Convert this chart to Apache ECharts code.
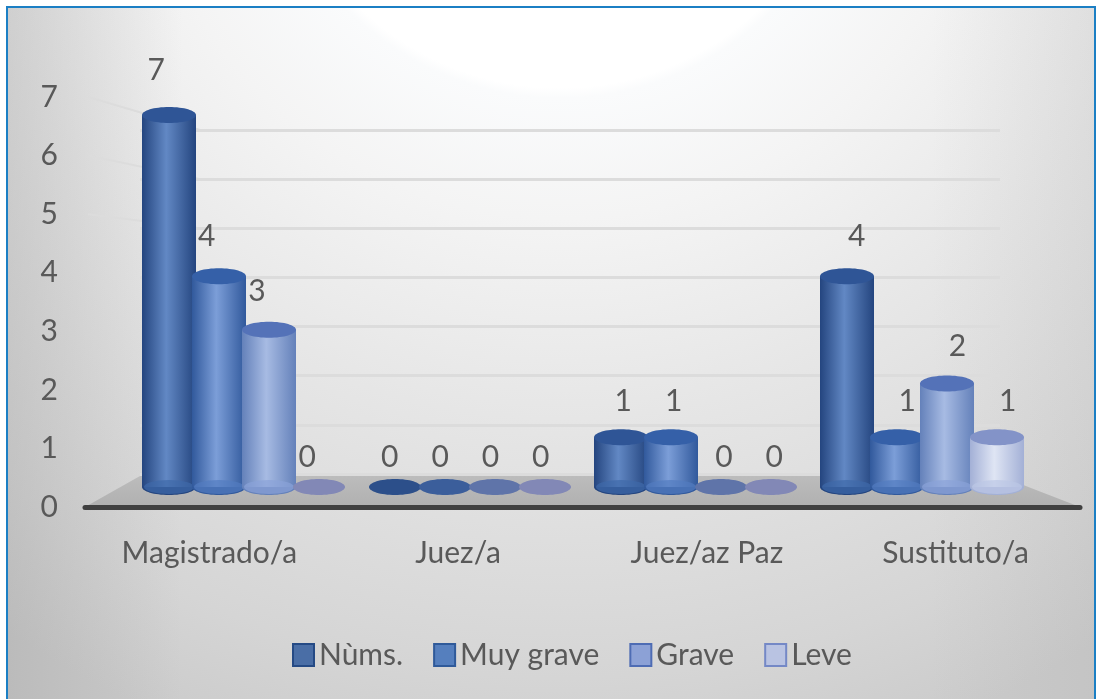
<!DOCTYPE html>
<html>
<head>
<meta charset="utf-8">
<style>
  html, body { margin: 0; padding: 0; background: #fff; }
  #chart { width: 1098px; height: 699px; }
</style>
<script src="https://cdn.jsdelivr.net/npm/echarts@6/dist/echarts.min.js"></script>
</head>
<body>
<div id="chart"></div>
<script>
// Data
var categories = ['Magistrado/a', 'Juez/a', 'Juez/az Paz', 'Sustituto/a'];
var seriesNames = ['Nùms.', 'Muy grave', 'Grave', 'Leve'];
var nums = [7, 0, 1, 4];
var muyGrave = [4, 0, 1, 1];
var grave = [3, 0, 0, 2];
var leve = [0, 0, 0, 1];
var yTicks = [0, 1, 2, 3, 4, 5, 6, 7];

var allValues = [nums, muyGrave, grave, leve];

// Colors per series
var edgeColors = ['#24457f', '#31599c', '#6481ba', '#a3b0d6'];
var midColors = ['#6288c4', '#7c9ed8', '#a7bbe3', '#dfe5f4'];
var capColors = ['#2f5596', '#3560a8', '#5472b8', '#8393c8'];
var footColors = ['#3f69aa', '#527cc0', '#8aa3d8', '#bcc8e6'];
var flatColors = ['#2c4f8a', '#3b5e9b', '#5f74a9', '#8288b6'];
var legendFills = ['#4a6ea6', '#557fbe', '#8ca1d6', '#b9c3e2'];
var legendBorders = ['#254a85', '#2f5a9a', '#4e6cb4', '#7488c6'];

var FONT = 'Lato, "Open Sans", sans-serif';
var TEXT_COLOR = '#595959';
var FONT_SIZE = 30;

var chart_element = document.getElementById('chart');
var chart = echarts.init(chart_element);

// Cylinder for one value
function renderCylinder(seriesIndex) {
    return function (params, api) {
        var cat = api.value(0);
        var val = api.value(1);
        var zero = api.coord([cat, 0]);
        var top = api.coord([cat, val]);
        var cx = zero[0] + (seriesIndex - 1.5) * 50;
        var rx = 27;
        var ry = 8;
        var baseY = zero[1] - 4;

        if (val === 0) {
            return {
                type: 'ellipse',
                shape: {cx: cx, cy: baseY, rx: rx - 1, ry: ry},
                style: {fill: flatColors[seriesIndex]}
            };
        }

        var body = new echarts.graphic.LinearGradient(0, 0, 1, 0, [
            {offset: 0, color: edgeColors[seriesIndex]},
            {offset: 0.45, color: midColors[seriesIndex]},
            {offset: 1, color: edgeColors[seriesIndex]}
        ]);
        return {
            type: 'group',
            children: [
                {type: 'ellipse', shape: {cx: cx, cy: baseY, rx: rx, ry: ry}, style: {fill: edgeColors[seriesIndex]}},
                {type: 'rect', shape: {x: cx - rx, y: top[1], width: rx * 2, height: baseY - top[1]}, style: {fill: body}},
                {type: 'ellipse', shape: {cx: cx, cy: baseY, rx: rx - 2, ry: ry - 1}, style: {fill: footColors[seriesIndex], opacity: 0.7}},
                {type: 'ellipse', shape: {cx: cx, cy: top[1], rx: rx, ry: ry}, style: {fill: capColors[seriesIndex]}}
            ]
        };
    };
}

// Value label above a cylinder, lives on its own grid
function renderLabel(seriesIndex) {
    return function (params, api) {
        var pos = api.coord([api.value(0), api.value(1)]);
        return {
            type: 'text',
            x: pos[0] + (seriesIndex - 1.5) * 50.3,
            y: pos[1],
            style: {
                text: String(api.value(1)),
                fill: TEXT_COLOR,
                font: FONT_SIZE + 'px ' + FONT,
                align: 'center',
                verticalAlign: 'middle'
            }
        };
    };
}

function pairs(values) {
    return values.map(function (v, i) {
        return [i, v];
    });
}

var series = [];
allValues.forEach(function (values, i) {
    series.push({
        name: seriesNames[i],
        type: 'custom',
        xAxisIndex: 2,
        yAxisIndex: 2,
        z: 5,
        clip: false,
        itemStyle: {color: legendFills[i]},
        renderItem: renderCylinder(i),
        data: pairs(values)
    });
});
allValues.forEach(function (values, i) {
    series.push({
        name: seriesNames[i] + ' valor',
        type: 'custom',
        xAxisIndex: 3,
        yAxisIndex: 3,
        z: 6,
        clip: false,
        renderItem: renderLabel(i),
        data: pairs(values)
    });
});

var hiddenCat = {type: 'category', data: categories, show: false};
var hiddenVal = {type: 'value', min: 0, max: 7, interval: 1, show: false};

// Options
chart.setOption({
    animation: false,
    backgroundColor: '#ffffff',
    textStyle: {fontFamily: FONT},
    legend: {
        left: 292,
        top: 640,
        padding: 0,
        itemWidth: 21,
        itemHeight: 22,
        itemGap: 30,
        selectedMode: false,
        textStyle: {fontFamily: FONT, fontSize: FONT_SIZE, color: TEXT_COLOR},
        data: seriesNames.map(function (name, i) {
            return {
                name: name,
                icon: 'rect',
                itemStyle: {color: legendFills[i], borderColor: legendBorders[i], borderWidth: 2}
            };
        })
    },
    // 0: front plane with the axes, 1: back wall, 2: cylinders, 3: value labels
    grid: [
        {left: 85, right: 18, top: 97, bottom: 192},
        {left: 140, right: 98, top: 130, bottom: 225},
        {left: 131, right: 63, top: 115, bottom: 208},
        {left: 115, right: 49, top: 70.6, bottom: 242}
    ],
    xAxis: [
        {
            type: 'category',
            gridIndex: 0,
            data: categories,
            z: 4,
            axisTick: {show: false},
            axisLine: {lineStyle: {color: '#404040', width: 5}},
            axisLabel: {color: TEXT_COLOR, fontSize: FONT_SIZE, fontFamily: FONT, margin: 31}
        },
        Object.assign({gridIndex: 1}, hiddenCat),
        Object.assign({gridIndex: 2}, hiddenCat),
        Object.assign({gridIndex: 3}, hiddenCat)
    ],
    yAxis: [
        {
            type: 'value',
            gridIndex: 0,
            min: 0,
            max: 7,
            interval: 1,
            axisLine: {show: false},
            axisTick: {show: false},
            splitLine: {show: false},
            axisLabel: {
                color: TEXT_COLOR,
                fontSize: FONT_SIZE,
                fontFamily: FONT,
                margin: 27,
                formatter: function (v) {
                    return yTicks.indexOf(v) >= 0 ? String(v) : '';
                }
            }
        },
        {
            type: 'value',
            gridIndex: 1,
            min: 0,
            max: 7,
            interval: 1,
            axisLine: {show: false},
            axisTick: {show: false},
            axisLabel: {show: false},
            splitLine: {lineStyle: {color: '#dcdcdc', width: 3}}
        },
        Object.assign({gridIndex: 2}, hiddenVal),
        Object.assign({gridIndex: 3}, hiddenVal)
    ],
    series: series
});

// Backdrop, floor and the faint side wall lines
var backdrop = [
    {
        type: 'rect',
        z: -10,
        shape: {x: 7, y: 7, width: 1088, height: 700},
        style: {
            stroke: '#1b7fc4',
            lineWidth: 2,
            fill: {
                type: 'radial',
                x: 560,
                y: -202,
                r: 1000,
                global: true,
                colorStops: [
                    {offset: 0, color: '#ffffff'},
                    {offset: 0.29, color: '#ffffff'},
                    {offset: 0.3, color: '#fafbfc'},
                    {offset: 0.42, color: '#f4f4f4'},
                    {offset: 0.62, color: '#e6e6e6'},
                    {offset: 0.88, color: '#d5d5d5'},
                    {offset: 1, color: '#cbcbcb'}
                ]
            }
        }
    },
    {
        type: 'rect',
        z: -9,
        shape: {x: 8, y: 8, width: 1086, height: 691},
        style: {
            fill: new echarts.graphic.LinearGradient(0, 0, 1, 0, [
                {offset: 0, color: 'rgba(150,150,150,0.3)'},
                {offset: 0.16, color: 'rgba(150,150,150,0)'},
                {offset: 0.85, color: 'rgba(150,150,150,0)'},
                {offset: 1, color: 'rgba(150,150,150,0.12)'}
            ])
        }
    }
];

var wall = [7, 6, 5].map(function (v) {
    var front = chart.convertToPixel({yAxisIndex: 0}, v);
    var back = chart.convertToPixel({yAxisIndex: 1}, v);
    return {
        type: 'line',
        z: -8,
        shape: {x1: 88, y1: front, x2: 200, y2: back},
        style: {stroke: '#dcdcdc', lineWidth: 2}
    };
});

var floorBack = chart.convertToPixel({yAxisIndex: 1}, 0) + 2;
var floorFront = chart.convertToPixel({yAxisIndex: 0}, 0);
var floor = {
    type: 'polygon',
    z: 1,
    shape: {points: [[85, floorFront], [140, floorBack], [1000, floorBack], [1080, floorFront]]},
    style: {
        fill: new echarts.graphic.LinearGradient(0, 0, 0, 1, [
            {offset: 0, color: '#bcbcbc'},
            {offset: 1, color: '#b0b0b0'}
        ])
    }
};

chart.setOption({graphic: backdrop.concat(wall, [floor])});
</script>
</body>
</html>
